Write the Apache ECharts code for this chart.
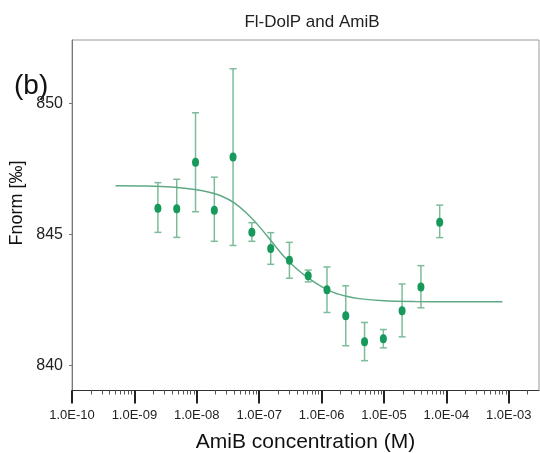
<!DOCTYPE html>
<html>
<head>
<meta charset="utf-8">
<title>Fl-DolP and AmiB</title>
<script src="https://cdn.jsdelivr.net/npm/echarts@6/dist/echarts.min.js"></script>
<style>
  html, body { margin: 0; padding: 0; background: #fff; }
  #chart { width: 540px; height: 453px; }
</style>
</head>
<body>
<div id="chart"></div>
<script>
// 浓度 (M), 2倍稀释
const conc = [2.38e-9, 4.77e-9, 9.54e-9, 1.91e-8, 3.81e-8, 7.63e-8, 1.53e-7, 3.05e-7,
  6.10e-7, 1.22e-6, 2.44e-6, 4.88e-6, 9.77e-6, 1.95e-5, 3.91e-5, 7.81e-5];
const fnorm = [845.99, 845.97, 847.75, 845.92, 847.95, 845.08, 844.45, 844.01,
  843.41, 842.88, 841.89, 840.89, 841.01, 842.08, 842.98, 845.46];
const errHigh = [846.97, 847.10, 849.64, 847.18, 851.32, 845.44, 845.06, 844.69,
  843.63, 843.75, 843.03, 841.63, 841.36, 843.10, 843.80, 846.11];
const errLow = [845.07, 844.88, 845.86, 844.73, 844.57, 844.73, 843.85, 843.32,
  843.18, 842.01, 840.74, 840.17, 840.66, 841.08, 842.19, 844.87];

// 拟合曲线
const fitConc = [5.0e-10, 1.58e-9, 3.98e-9, 1.0e-8, 1.58e-8, 2.51e-8, 3.98e-8, 6.31e-8,
  1.0e-7, 1.58e-7, 2.51e-7, 3.98e-7, 6.31e-7, 1.0e-6, 1.58e-6, 2.51e-6, 3.98e-6,
  1.0e-5, 3.16e-5, 1.0e-4, 7.9e-4];
const fitVal = [846.85, 846.84, 846.80, 846.70, 846.60, 846.45, 846.20, 845.80,
  845.30, 844.72, 844.14, 843.68, 843.30, 843.00, 842.77, 842.63, 842.54,
  842.46, 842.43, 842.42, 842.42];

// 坐标轴刻度
const xTicks = [1e-10, 1e-9, 1e-8, 1e-7, 1e-6, 1e-5, 1e-4, 1e-3];
const yTicks = [840, 845, 850];
const xMin = 1e-10, xMax = 3.05e-3;
const yMin = 839.03, yMax = 852.42;

// 次刻度 2..9 x 10^k
const minorTicks = [];
xTicks.forEach(d => {
  for (let m = 2; m <= 9; m++) {
    const v = m * d;
    if (v < xMax * 0.98) minorTicks.push(v);
  }
});

const FONT = "'Liberation Sans', Arial, sans-serif";

function expLabel(v) {
  const e = Math.round(Math.log10(v));
  const a = Math.abs(e);
  return "1.0E" + (e < 0 ? "-" : "+") + (a < 10 ? "0" : "") + a;
}

const chart = echarts.init(document.getElementById("chart"));

const option = {
  animation: false,
  title: {
    text: "Fl-DolP and AmiB",
    left: 307,
    top: 9,
    textAlign: "center",
    textStyle: { fontFamily: FONT, fontSize: 17, fontWeight: "normal", color: "#222" }
  },
  graphic: [
    {
      type: "text",
      left: 14,
      top: 72,
      style: { text: "(b)", font: "28px " + FONT, fill: "#111" }
    },
    {
      type: "text",
      x: 17,
      y: 203,
      rotation: Math.PI / 2,
      style: {
        text: "Fnorm [‰]",
        font: "18px " + FONT,
        fill: "#111",
        textAlign: "center",
        textVerticalAlign: "middle"
      }
    }
  ],
  grid: {
    left: 72,
    right: 1,
    top: 40,
    bottom: 62.5,
    containLabel: false,
    outerBoundsMode: "none",
    show: true,
    borderColor: "#9a9a9a",
    borderWidth: 1
  },
  xAxis: [
    {
      type: "log",
      logBase: 10,
      min: xMin,
      max: xMax,
      position: "bottom",
      name: "AmiB concentration (M)",
      nameLocation: "middle",
      nameGap: 41,
      nameTextStyle: { fontFamily: FONT, fontSize: 21, color: "#111" },
      axisLine: { show: true, lineStyle: { color: "#333", width: 1 } },
      axisTick: {
        show: true,
        customValues: xTicks,
        length: 13,
        lineStyle: { color: "#222", width: 2 }
      },
      axisLabel: {
        customValues: xTicks,
        formatter: expLabel,
        margin: 18,
        fontFamily: FONT,
        fontSize: 13,
        color: "#222"
      },
      splitLine: { show: false },
      minorTick: { show: false }
    },
    {
      type: "log",
      logBase: 10,
      min: xMin,
      max: xMax,
      position: "bottom",
      axisLine: { show: false },
      axisTick: {
        show: true,
        customValues: minorTicks,
        length: 4,
        lineStyle: { color: "#555", width: 1 }
      },
      axisLabel: { show: false },
      splitLine: { show: false }
    }
  ],
  yAxis: {
    type: "value",
    min: yMin,
    max: yMax,
    axisLine: { show: true, lineStyle: { color: "#777", width: 1 } },
    axisTick: {
      show: true,
      customValues: yTicks,
      length: 3,
      lineStyle: { color: "#777" }
    },
    axisLabel: {
      customValues: yTicks,
      margin: 9,
      fontFamily: FONT,
      fontSize: 16,
      color: "#222"
    },
    splitLine: { show: false }
  },
  series: [
    {
      name: "error",
      type: "custom",
      z: 1,
      encode: { x: 0, y: [1, 2] },
      data: conc.map((c, i) => [c, errLow[i], errHigh[i]]),
      renderItem: function (params, api) {
        const x = api.value(0);
        const lo = api.coord([x, api.value(1)]);
        const hi = api.coord([x, api.value(2)]);
        const hw = 3.5;
        const style = { stroke: "#7cbc9b", lineWidth: 1.5 };
        return {
          type: "group",
          children: [
            { type: "line", shape: { x1: lo[0], y1: lo[1], x2: hi[0], y2: hi[1] }, style: style },
            { type: "line", shape: { x1: hi[0] - hw, y1: hi[1], x2: hi[0] + hw, y2: hi[1] }, style: style },
            { type: "line", shape: { x1: lo[0] - hw, y1: lo[1], x2: lo[0] + hw, y2: lo[1] }, style: style }
          ]
        };
      }
    },
    {
      name: "fit",
      type: "line",
      z: 2,
      smooth: 0.3,
      showSymbol: false,
      lineStyle: { color: "#5fa985", width: 1.5 },
      data: fitConc.map((c, i) => [c, fitVal[i]])
    },
    {
      name: "Fnorm",
      type: "scatter",
      z: 3,
      symbol: "circle",
      symbolSize: [7, 9],
      itemStyle: { color: "#16995a", opacity: 1 },
      data: conc.map((c, i) => [c, fnorm[i]])
    }
  ]
};

chart.setOption(option);
</script>
</body>
</html>
